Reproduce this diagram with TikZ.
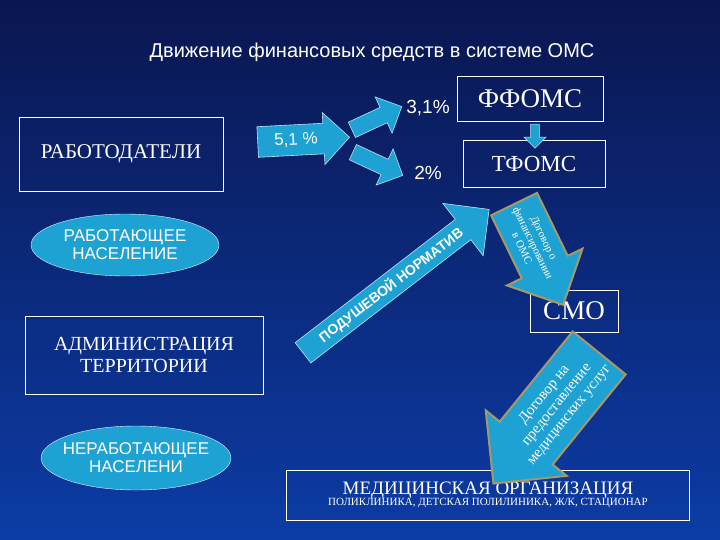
\documentclass[tikz,border=0pt]{standalone}
\usepackage{fontspec}
\setmainfont{Liberation Serif}
\setsansfont{Liberation Sans}
\usetikzlibrary{shapes.geometric,shapes.arrows}
\definecolor{arr}{HTML}{1EA2D4}
\definecolor{tan}{HTML}{A89868}
\begin{document}
\begin{tikzpicture}[x=1pt,y=-1pt,
 wbox/.style={draw=white,line width=0.8pt,text=white,align=center,font=\rmfamily},
 ell/.style={ellipse,draw=white!85!arr,fill=arr,text=white,align=center,font=\sffamily\fontsize{17}{18}\selectfont,inner sep=-6pt},
 arrw/.style={single arrow,draw=white!70!arr,fill=arr,text=white,inner sep=2pt,line width=0.6pt},
 carrw/.style={single arrow,draw=tan,fill=arr,text=white,line width=2pt,align=center}]
\shade[top color={rgb,255:red,10;green,22;blue,80},bottom color={rgb,255:red,12;green,60;blue,165}] (0,0) rectangle (720,540);
\useasboundingbox (0,0) rectangle (720,540);
\node[text=white,font=\sffamily\fontsize{20}{22}\selectfont] (title) at (372,52) {Движение финансовых средств в системе ОМС};
\node[wbox,minimum width=204,minimum height=74,font=\rmfamily\fontsize{21}{23}\selectfont] (rab) at (121,154) {РАБОТОДАТЕЛИ};
\node[ell,minimum width=188,minimum height=62] (rn) at (125,245) {РАБОТАЮЩЕЕ\\НАСЕЛЕНИЕ};
\node[wbox,minimum width=238,minimum height=78,font=\rmfamily\fontsize{20}{22}\selectfont] (adm) at (144,355) {АДМИНИСТРАЦИЯ\\ТЕРРИТОРИИ};
\node[ell,minimum width=188,minimum height=64] (nn) at (136,458) {НЕРАБОТАЮЩЕЕ\\НАСЕЛЕНИ};
\node[wbox,minimum width=146,minimum height=45,font=\rmfamily\fontsize{27}{29}\selectfont] (ff) at (530,99) {ФФОМС};
\node[wbox,minimum width=142,minimum height=47,font=\rmfamily\fontsize{23}{25}\selectfont] (tf) at (534,164) {ТФОМС};
\node[wbox,minimum width=88,minimum height=42,font=\rmfamily\fontsize{27}{29}\selectfont] (smo) at (574,311) {СМО};
\node[wbox,minimum width=403,minimum height=50,inner sep=1pt] (med) at (488,495) {\fontsize{19}{20}\selectfont МЕДИЦИНСКАЯ ОРГАНИЗАЦИЯ\\[-1pt]\fontsize{11}{12}\selectfont ПОЛИКЛИНИКА,  ДЕТСКАЯ ПОЛИЛИНИКА, Ж/К, СТАЦИОНАР};
\node[text=white,font=\sffamily\fontsize{19}{20}\selectfont] (p31) at (428,108) {3,1\%};
\node[text=white,font=\sffamily\fontsize{19}{20}\selectfont] (p2) at (428,173) {2\%};
\node[arrw,rotate=3,minimum height=92,minimum width=52,single arrow head extend=10,font=\sffamily\fontsize{17}{18}\selectfont,inner sep=7pt] (a51) at (296,140) {5,1 \%};
\node[arrw,rotate=25,minimum height=55,minimum width=40,single arrow head extend=10,inner sep=7pt] (aup) at (373,120) {};
\node[arrw,rotate=-25,minimum height=55,minimum width=40,single arrow head extend=10,inner sep=7pt] (adn) at (374,162) {};
\node[arrw,rotate=-90,minimum height=24,minimum width=22,single arrow head extend=5,inner sep=3pt] (aft) at (535,134) {};
\node[arrw,rotate=37.6,minimum height=235,minimum width=66,single arrow head extend=19,font=\sffamily\bfseries\fontsize{14}{15}\selectfont,inner sep=4pt] (pn) at (391,285) {ПОДУШЕВОЙ НОРМАТИВ};
\node[carrw,rotate=-64,minimum height=112,minimum width=84,single arrow head extend=12,inner sep=2pt,font=\rmfamily\fontsize{11}{12}\selectfont] (c1) at (533,243) {Договор о\\финансировании\\в ОМС};
\node[carrw,rotate=51,shape border rotate=180,minimum height=168,minimum width=104,single arrow head extend=14,inner sep=3pt,font=\rmfamily\fontsize{15}{16}\selectfont] (c2) at (557,405) {Договор на\\предоставление\\медицинских услуг};
\end{tikzpicture}
\end{document}
